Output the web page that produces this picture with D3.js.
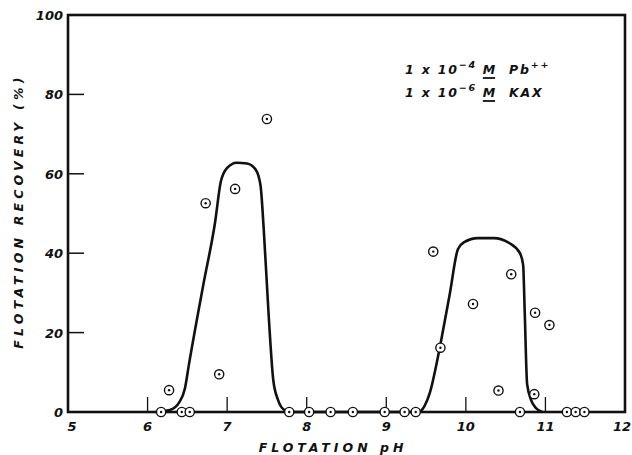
<!DOCTYPE html>
<html>
<head>
<meta charset="utf-8">
<script src="https://cdn.jsdelivr.net/npm/d3@7"></script>
<style>
  html, body { margin: 0; padding: 0; background: #fff; }
  svg text { font-family: "DejaVu Sans", sans-serif; font-weight: bold; font-style: italic; fill: #111; }
</style>
</head>
<body>
<div id="chart"></div>
<script>
// measured points (flotation pH, recovery %)
const pointPh  = [7.50, 7.10, 6.73, 6.27, 6.90, 6.17, 6.43, 6.53, 7.78, 8.03,
                  9.59, 10.57, 10.09, 10.87, 11.05, 9.68, 10.41, 10.86,
                  8.30, 8.58, 8.98, 9.23, 9.37, 10.68, 11.27, 11.38, 11.49];
const pointRec = [73.8, 56.2, 52.6, 5.5, 9.5, 0, 0, 0, 0, 0,
                  40.4, 34.7, 27.2, 25.0, 21.9, 16.2, 5.4, 4.5,
                  0, 0, 0, 0, 0, 0, 0, 0, 0];

// hand-drawn curve
const curvePh  = [6.10, 6.28, 6.40, 6.47, 6.52, 6.70, 6.85, 6.92, 7.00, 7.12, 7.25, 7.36, 7.42, 7.46, 7.52, 7.58, 7.64, 7.72, 7.80,
                  9.40, 9.48, 9.55, 9.62, 9.68, 9.80, 9.90, 9.98, 10.15, 10.35, 10.55, 10.68, 10.72, 10.74, 10.77, 10.82, 10.88, 10.96];
const curveRec = [0, 0.5, 2.5, 6, 12, 32, 48, 58, 61.5, 62.8, 62.6, 61, 57, 46, 25, 8, 3, 0.5, 0,
                  0, 1.5, 5, 11, 17, 30, 41, 42.8, 43.8, 43.8, 42.5, 40, 37, 25, 7, 3, 1, 0];

const xTicks = [6, 7, 8, 9, 10, 11];
const yTicks = [20, 40, 60, 80];
const xLabels = [5, 6, 7, 8, 9, 10, 11, 12];
const yLabels = [0, 20, 40, 60, 80, 100];

const W = 632, H = 455;
const m = { left: 68, right: 7, top: 15, bottom: 43 };

const svg = d3.select('#chart').append('svg')
  .attr('width', W).attr('height', H);

const x = d3.scaleLinear().domain([5, 12]).range([m.left, W - m.right]);
const y = d3.scaleLinear().domain([0, 100]).range([H - m.bottom, m.top]);

// frame
svg.append('rect')
  .attr('x', x(5)).attr('y', y(100))
  .attr('width', x(12) - x(5)).attr('height', y(0) - y(100))
  .attr('fill', 'none').attr('stroke', '#111').attr('stroke-width', 2.6);

// inward ticks
svg.append('g').selectAll('line').data(xTicks).join('line')
  .attr('x1', d => x(d)).attr('x2', d => x(d))
  .attr('y1', y(0)).attr('y2', y(0) - 15)
  .attr('stroke', '#111').attr('stroke-width', 1.3);

svg.append('g').selectAll('line').data(yTicks).join('line')
  .attr('x1', x(5)).attr('x2', x(5) + 16)
  .attr('y1', d => y(d)).attr('y2', d => y(d))
  .attr('stroke', '#111').attr('stroke-width', 1.5);

// tick labels
const last = xLabels.length - 1;
svg.append('g').selectAll('text').data(xLabels).join('text')
  .attr('x', (d, i) => i === 0 ? x(d) + 4 : (i === last ? W - 1 : x(d)))
  .attr('y', y(0) + 19)
  .attr('text-anchor', (d, i) => i === last ? 'end' : 'middle')
  .attr('font-size', 13)
  .text(d => d);

svg.append('g').selectAll('text').data(yLabels).join('text')
  .attr('x', x(5) - 5)
  .attr('y', d => y(d) + 5)
  .attr('text-anchor', 'end')
  .attr('font-size', 13)
  .text(d => d);

// axis titles
svg.append('text')
  .attr('x', 333).attr('y', 452)
  .attr('text-anchor', 'middle')
  .attr('font-size', 12.5)
  .attr('letter-spacing', 4)
  .text('FLOTATION  pH');

svg.append('text')
  .attr('transform', `translate(23,${211}) rotate(-90)`)
  .attr('text-anchor', 'middle')
  .attr('font-size', 12.5)
  .attr('letter-spacing', 4.2)
  .text('FLOTATION  RECOVERY  (%)');

// curve
const curveData = curvePh.map((p, i) => [p, curveRec[i]]);
svg.append('path')
  .datum(curveData)
  .attr('fill', 'none')
  .attr('stroke', '#111')
  .attr('stroke-width', 2.6)
  .attr('stroke-linejoin', 'round')
  .attr('d', d3.line().x(d => x(d[0])).y(d => y(d[1])).curve(d3.curveMonotoneX));

// points: circle with centre dot
const pts = svg.append('g').selectAll('g')
  .data(pointPh.map((p, i) => [p, pointRec[i]]))
  .join('g')
  .attr('transform', d => `translate(${x(d[0])},${y(d[1])})`);
pts.append('circle').attr('r', 4.6)
  .attr('fill', '#fff').attr('stroke', '#111').attr('stroke-width', 1.4);
pts.append('circle').attr('r', 1.2).attr('fill', '#111');

// legend
const leg = svg.append('g').attr('font-size', 12.5);
const line1 = leg.append('text').attr('x', 405).attr('y', 74).attr('letter-spacing', 1.8);
line1.append('tspan').text('1 x 10');
line1.append('tspan').attr('dy', -6).attr('font-size', 9.5).text('−4');
line1.append('tspan').attr('dy', 6).attr('dx', 6).text('M');
line1.append('tspan').attr('dx', 12).text('Pb');
line1.append('tspan').attr('dy', -6).attr('font-size', 9.5).text('++');

const line2 = leg.append('text').attr('x', 405).attr('y', 97).attr('letter-spacing', 1.8);
line2.append('tspan').text('1 x 10');
line2.append('tspan').attr('dy', -6).attr('font-size', 9.5).text('−6');
line2.append('tspan').attr('dy', 6).attr('dx', 6).text('M');
line2.append('tspan').attr('dx', 12).text('KAX');

// underline the M's
[[line1, 74], [line2, 97]].forEach(([t, by]) => {
  const box = t.selectAll('tspan').nodes()[2].getBBox();
  leg.append('line')
    .attr('x1', box.x).attr('x2', box.x + box.width - 2)
    .attr('y1', by + 4).attr('y2', by + 4)
    .attr('stroke', '#111').attr('stroke-width', 1.8);
});
</script>
</body>
</html>
